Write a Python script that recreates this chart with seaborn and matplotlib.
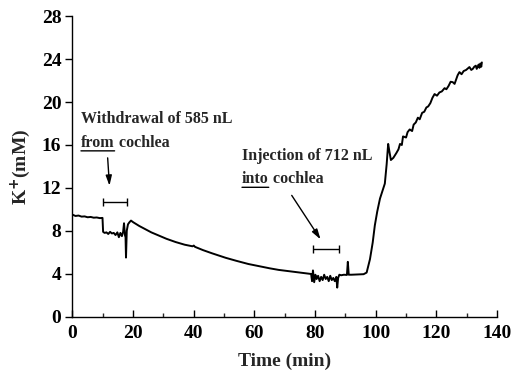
import matplotlib
matplotlib.use("Agg")
import matplotlib.pyplot as plt
import seaborn as sns
import numpy as np
import pandas as pd

# ---- data ----
time_min = [
    0, 1, 2, 3, 4, 5, 6, 7, 8, 9, 9.9,
    10.1, 10.6, 11.2, 11.8, 12.4, 13.0, 13.6, 14.2, 14.8, 15.3, 15.8, 16.3, 16.7,
    17.0, 17.3, 17.5, 17.65, 17.9, 18.3, 18.8, 19.3, 20.0,
    22, 24, 26, 28.7, 31, 34, 37, 39.6, 40.0, 40.4, 43, 46, 50.5, 54, 58, 61.5,
    65, 68, 72.3, 75, 78.7,
    79.0, 79.3, 79.7, 80.1, 80.5, 81.0, 81.5, 82.0, 82.5, 83.0, 83.5, 84.0, 84.5,
    85.0, 85.5, 86.0, 86.5, 87.0, 87.3, 87.6, 88.0, 88.6,
    89.5, 90.5, 90.8, 91.1, 92, 94, 96, 97, 98.1, 99.0, 99.7, 100.5, 101.4, 102.3,
    103.0, 103.6, 104.1, 104.5, 105.0, 105.8, 106.8, 107.5, 108, 108.6, 109, 110,
    110.5, 111.2, 112.0, 112.5, 113.2, 113.9, 114.5, 115.3, 116.0, 116.7, 117.3,
    118, 118.7, 119.4, 120.2, 121, 121.8, 122.7, 123.3, 124, 124.7, 125.4, 126.0,
    126.5, 127.0, 127.6, 128.3, 129, 129.8, 130.9, 131.5, 132, 132.5, 133.0,
    133.3, 133.6, 133.9, 134.2, 134.5, 134.8, 135.0,
]
k_mM = [
    9.5, 9.38, 9.42, 9.32, 9.34, 9.26, 9.29, 9.22, 9.24, 9.18, 9.2,
    7.9, 7.8, 7.85, 7.7, 7.9, 7.75, 7.8, 7.6, 7.85, 7.4, 7.8, 7.5, 7.9,
    8.7, 7.6, 7.4, 5.5, 8.0, 8.6, 8.8, 8.95, 8.8,
    8.45, 8.15, 7.85, 7.53, 7.25, 6.95, 6.7, 6.55, 6.62, 6.5, 6.2, 5.9, 5.48, 5.2, 4.9, 4.7,
    4.5, 4.35, 4.2, 4.1, 3.97,
    3.3, 4.3, 3.2, 3.9, 3.5, 3.8, 3.3, 3.7, 3.4, 3.9, 3.5, 3.7, 3.3,
    3.8, 3.4, 3.6, 3.3, 3.7, 2.7, 3.6, 3.9, 3.85,
    3.9, 3.88, 5.1, 3.9, 3.9, 3.92, 3.95, 4.1, 5.35, 6.9, 8.5, 9.8, 11.0, 11.8,
    12.4, 14.2, 16.1, 15.4, 14.6, 14.8, 15.25, 15.6, 16.1, 16.0, 16.8, 16.7,
    17.2, 17.45, 17.3, 17.9, 18.1, 18.55, 18.4, 19.0, 19.1, 19.5, 19.6,
    19.9, 20.4, 20.75, 20.6, 20.9, 21.0, 21.3, 21.2, 21.5, 21.9, 21.86, 21.7,
    22.1, 22.5, 22.8, 22.6, 22.9, 23.0, 23.27, 23.0, 23.1, 23.3, 23.4,
    23.1, 23.3, 23.5, 23.2, 23.6, 23.3, 23.7,
]
bar_centers = [14.0, 83.6]
bar_levels = [10.65, 6.26]
bar_half_widths = [4.0, 4.4]

x_ticks = [0, 20, 40, 60, 80, 100, 120, 140]
y_ticks = [0, 4, 8, 12, 16, 20, 24, 28]

df = pd.DataFrame({"Time (min)": time_min, "K": k_mM})

sns.set_theme(style="ticks")
plt.rcParams["font.family"] = ["Liberation Serif", "DejaVu Serif"]
plt.rcParams["font.weight"] = "bold"

fig = plt.figure(figsize=(5.14, 3.80), dpi=100)
ax = fig.add_axes([0.141, 0.167, 0.826, 0.790])

sns.lineplot(data=df, x="Time (min)", y="K", ax=ax, color="black",
             linewidth=1.4, estimator=None, sort=False)

ax.errorbar(bar_centers, bar_levels, xerr=bar_half_widths, fmt="none",
            ecolor="black", elinewidth=1.0, capsize=3, capthick=1.0)

ax.set_xlim(0, 140)
ax.set_ylim(0, 28)
ax.set_xticks(x_ticks)
ax.set_yticks(y_ticks)
ax.set_xticks(np.arange(10, 140, 20), minor=True)
ax.tick_params(axis="x", which="major", direction="in", length=5, width=1,
               labelsize=14, pad=6, colors="black")
ax.tick_params(axis="x", which="minor", direction="in", length=3, width=1)
ax.tick_params(axis="y", which="major", direction="out", length=5, width=1,
               labelsize=14, pad=3, colors="black")
for lab in ax.get_xticklabels() + ax.get_yticklabels():
    lab.set_fontweight("bold")

for s in ["top", "right"]:
    ax.spines[s].set_visible(False)
for s in ["left", "bottom"]:
    ax.spines[s].set_linewidth(1.0)
    ax.spines[s].set_color("black")

ax.set_xlabel("Time (min)", fontsize=14, fontweight="bold", labelpad=8)
ax.set_ylabel(r"K$^{\mathbf{+}}$(mM)", fontsize=14, fontweight="bold", labelpad=6)

fs = 11.5
ax.text(2.8, 18.4, "Withdrawal of 585 nL", fontsize=fs, fontweight="bold",
        va="center", ha="left")
t1 = ax.text(2.8, 16.2, "from", fontsize=fs, fontweight="bold",
             va="center", ha="left")
ax.annotate(" cochlea", xy=(1, 0.5), xycoords=t1, va="center", ha="left",
            fontsize=fs, fontweight="bold")
ax.annotate("", xy=(0, 0.0), xycoords=t1, xytext=(1, 0.0), textcoords=t1,
            arrowprops=dict(arrowstyle="-", lw=1.0, color="black",
                            shrinkA=0, shrinkB=0))

ax.text(55.9, 15.0, "Injection of 712 nL", fontsize=fs, fontweight="bold",
        va="center", ha="left")
t2 = ax.text(55.9, 12.8, "into", fontsize=fs, fontweight="bold",
             va="center", ha="left")
ax.annotate(" cochlea", xy=(1, 0.5), xycoords=t2, va="center", ha="left",
            fontsize=fs, fontweight="bold")
ax.annotate("", xy=(0, 0.0), xycoords=t2, xytext=(1, 0.0), textcoords=t2,
            arrowprops=dict(arrowstyle="-", lw=1.0, color="black",
                            shrinkA=0, shrinkB=0))

arrow_kw = dict(arrowstyle="-|>,head_length=0.5,head_width=0.15", lw=1.0,
                color="black", shrinkA=0, shrinkB=0)
ax.annotate("", xy=(12.2, 12.2), xytext=(11.6, 14.8), arrowprops=arrow_kw)
ax.annotate("", xy=(81.8, 7.2), xytext=(72.3, 11.3), arrowprops=arrow_kw)

fig.savefig("out.png", dpi=100)
